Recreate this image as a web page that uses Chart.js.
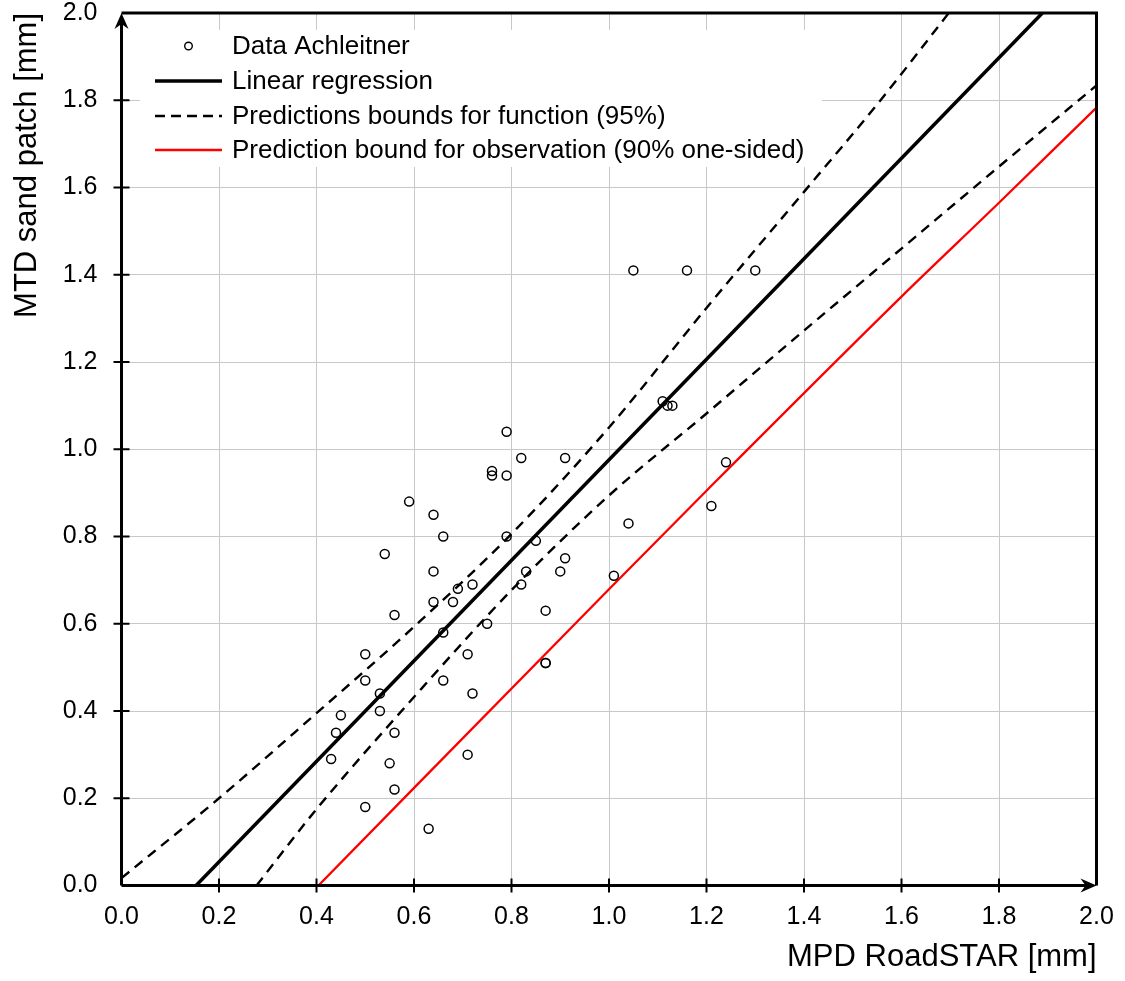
<!DOCTYPE html>
<html>
<head>
<meta charset="utf-8">
<script src="https://cdn.jsdelivr.net/npm/chart.js"></script>
<style>
  body { margin: 0; background: #fff; }
  #wrap { width: 1125px; height: 981px; }
</style>
</head>
<body>
<div id="wrap"><canvas id="graphe-mtd"></canvas></div>
<script>
const mpd = [0.43,0.44,0.45,0.50,0.50,0.50,0.53,0.53,0.54,0.55,0.56,0.56,0.56,0.59,0.63,0.64,0.64,0.64,0.66,0.66,0.66,0.68,0.69,0.71,0.71,0.72,0.72,0.75,0.76,0.76,0.79,0.79,0.79,0.82,0.82,0.83,0.85,0.87,0.87,0.87,0.90,0.91,0.91,1.01,1.04,1.05,1.11,1.12,1.13,1.16,1.21,1.24,1.30];
const mtd = [0.29,0.35,0.39,0.53,0.47,0.18,0.44,0.40,0.76,0.28,0.35,0.22,0.62,0.88,0.13,0.85,0.72,0.65,0.80,0.58,0.47,0.65,0.68,0.53,0.30,0.69,0.44,0.60,0.95,0.94,1.04,0.94,0.80,0.98,0.69,0.72,0.79,0.63,0.51,0.51,0.72,0.98,0.75,0.71,0.83,1.41,1.11,1.10,1.10,1.41,0.87,0.97,1.41];

// droite de regression
const regX = [0.153, 1.889];
const regY = [0.0, 2.0];

// bornes 95% (pointillés)
const upX = [0.0, 0.2, 0.4, 0.6, 0.8, 1.0, 1.2, 1.4, 1.557, 1.697];
const upY = [0.017, 0.200, 0.395, 0.593, 0.806, 1.050, 1.324, 1.590, 1.800, 2.000];
const lowX = [0.277, 0.4, 0.6, 0.8, 1.0, 1.2, 1.4, 1.6, 1.8, 2.0];
const lowY = [0.0, 0.175, 0.432, 0.677, 0.894, 1.082, 1.272, 1.460, 1.648, 1.834];

// borne observation 90% (rouge)
const obsX = [0.404, 1.0, 1.2, 1.6, 1.8, 2.0];
const obsY = [0.0, 0.679, 0.905, 1.350, 1.565, 1.783];

const ticks = [0.0, 0.2, 0.4, 0.6, 0.8, 1.0, 1.2, 1.4, 1.6, 1.8, 2.0];

const labels = ['Data Achleitner', 'Linear regression', 'Predictions bounds for function (95%)', 'Prediction bound for observation (90% one-sided)'];

const police = "'Liberation Sans', Arial, sans-serif";

function pts(xs, ys) {
  return xs.map((x, i) => ({x: x, y: ys[i]}));
}

// légende + axes avec flèches
const axesPlugin = {
  id: 'axes',
  afterDatasetsDraw(chart) {
    const ctx = chart.ctx;
    const a = chart.chartArea;
    const sx = chart.scales.x, sy = chart.scales.y;
    ctx.save();

    // légende
    ctx.fillStyle = '#fff';
    ctx.fillRect(140, 30, 682, 137);
    const lx0 = 155, lx1 = 222, tx = 232;
    const rows = [46, 81, 116, 150];
    ctx.font = '26px ' + police;
    ctx.textBaseline = 'middle';
    ctx.textAlign = 'left';
    // cercle
    ctx.beginPath();
    ctx.arc((lx0 + lx1) / 2, rows[0], 3.8, 0, Math.PI * 2);
    ctx.strokeStyle = '#000';
    ctx.lineWidth = 1.4;
    ctx.stroke();
    // lignes
    const styles = [null, {w: 3.5, c: '#000', d: []}, {w: 2.4, c: '#000', d: [10, 6]}, {w: 2.3, c: '#ff0000', d: []}];
    for (let i = 1; i < 4; i++) {
      ctx.beginPath();
      ctx.setLineDash(styles[i].d);
      ctx.lineWidth = styles[i].w;
      ctx.strokeStyle = styles[i].c;
      ctx.moveTo(lx0, rows[i]);
      ctx.lineTo(lx1, rows[i]);
      ctx.stroke();
    }
    ctx.setLineDash([]);
    ctx.fillStyle = '#000';
    for (let i = 0; i < 4; i++) {
      ctx.fillText(labels[i], tx, rows[i] + 1);
    }

    // cadre haut / droite
    ctx.strokeStyle = '#000';
    ctx.lineWidth = 3;
    ctx.beginPath();
    ctx.moveTo(a.left, a.top);
    ctx.lineTo(a.right, a.top);
    ctx.lineTo(a.right, a.bottom);
    ctx.stroke();

    // axes
    ctx.beginPath();
    ctx.moveTo(a.left, a.bottom);
    ctx.lineTo(a.right - 8, a.bottom);
    ctx.moveTo(a.left, a.bottom);
    ctx.lineTo(a.left, a.top + 8);
    ctx.stroke();

    // graduations
    ctx.lineWidth = 2;
    ctx.beginPath();
    ticks.forEach(t => {
      if (t > 0 && t < 2) {
        const px = sx.getPixelForValue(t);
        ctx.moveTo(px, a.bottom - 7);
        ctx.lineTo(px, a.bottom + 7);
        const py = sy.getPixelForValue(t);
        ctx.moveTo(a.left - 8, py);
        ctx.lineTo(a.left + 8, py);
      }
    });
    ctx.stroke();

    // flèches
    ctx.fillStyle = '#000';
    ctx.beginPath();
    ctx.moveTo(a.left, a.top);
    ctx.lineTo(a.left - 7, a.top + 16);
    ctx.lineTo(a.left, a.top + 11);
    ctx.lineTo(a.left + 7, a.top + 16);
    ctx.closePath();
    ctx.fill();
    ctx.beginPath();
    ctx.moveTo(a.right, a.bottom);
    ctx.lineTo(a.right - 16, a.bottom - 7);
    ctx.lineTo(a.right - 11, a.bottom);
    ctx.lineTo(a.right - 16, a.bottom + 7);
    ctx.closePath();
    ctx.fill();

    ctx.restore();
  }
};

const ctx = document.getElementById('graphe-mtd');
new Chart(ctx, {
  type: 'scatter',
  data: {
    datasets: [
      {
        label: labels[0],
        data: pts(mpd, mtd),
        pointRadius: 4.5,
        pointHoverRadius: 4.5,
        borderColor: '#000',
        backgroundColor: 'rgba(0,0,0,0)',
        borderWidth: 1.5
      },
      {
        label: labels[1],
        data: pts(regX, regY),
        showLine: true,
        pointRadius: 0,
        borderColor: '#000',
        borderWidth: 3.5
      },
      {
        label: labels[2],
        data: pts(upX, upY),
        showLine: true,
        pointRadius: 0,
        borderColor: '#000',
        borderWidth: 2.4,
        borderDash: [10, 7],
        cubicInterpolationMode: 'monotone'
      },
      {
        label: labels[2] + ' (lower)',
        data: pts(lowX, lowY),
        showLine: true,
        pointRadius: 0,
        borderColor: '#000',
        borderWidth: 2.4,
        borderDash: [10, 7],
        cubicInterpolationMode: 'monotone'
      },
      {
        label: labels[3],
        data: pts(obsX, obsY),
        showLine: true,
        pointRadius: 0,
        borderColor: '#ff0000',
        borderWidth: 2.3,
        cubicInterpolationMode: 'monotone'
      }
    ]
  },
  options: {
    responsive: true,
    maintainAspectRatio: false,
    animation: false,
    layout: { padding: { top: 13, right: 28.5, bottom: 0, left: 0 } },
    plugins: {
      legend: { display: false },
      tooltip: { enabled: false }
    },
    scales: {
      x: {
        type: 'linear',
        min: 0, max: 2,
        afterFit: s => { s.height = 981 - 885.5; s.paddingLeft = 0; s.paddingRight = 0; },
        afterBuildTicks: s => { s.ticks = ticks.map(v => ({value: v})); },
        grid: { color: '#c8c8c8', lineWidth: 1, drawTicks: false },
        border: { display: false },
        ticks: {
          color: '#000',
          padding: 17,
          maxRotation: 0,
          font: { family: police, size: 25 },
          callback: v => v.toFixed(1)
        },
        title: {
          display: true,
          text: 'MPD RoadSTAR [mm]',
          align: 'end',
          color: '#000',
          font: { family: police, size: 31 },
          padding: { top: 0, bottom: 5 }
        }
      },
      y: {
        type: 'linear',
        min: 0, max: 2,
        afterFit: s => { s.width = 121.5; s.paddingTop = 0; s.paddingBottom = 0; },
        afterBuildTicks: s => { s.ticks = ticks.map(v => ({value: v})); },
        grid: { color: '#c8c8c8', lineWidth: 1, drawTicks: false },
        border: { display: false },
        ticks: {
          color: '#000',
          padding: 24,
          font: { family: police, size: 25 },
          callback: v => v.toFixed(1)
        },
        title: {
          display: true,
          text: 'MTD sand patch [mm]',
          align: 'end',
          color: '#000',
          font: { family: police, size: 31 },
          padding: { top: 9, bottom: 0 }
        }
      }
    }
  },
  plugins: [axesPlugin]
});
</script>
</body>
</html>
